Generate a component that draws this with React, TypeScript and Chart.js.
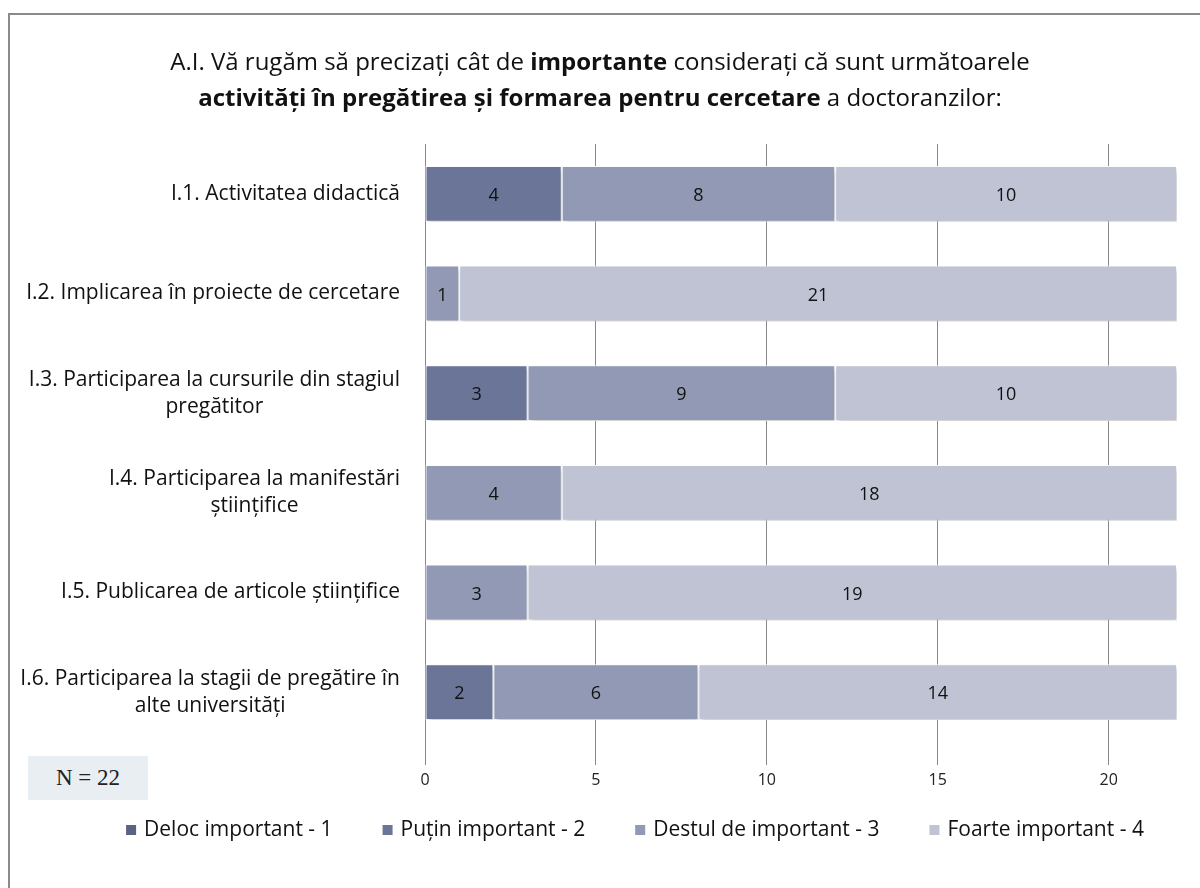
import React, { useEffect, useRef } from "react";
import { Chart, registerables } from "chart.js";

Chart.register(...registerables);

const categories: string[][] = [
  ["I.1. Activitatea didactică"],
  ["I.2. Implicarea în proiecte de cercetare"],
  ["I.3. Participarea la cursurile din stagiul", "pregătitor"],
  ["I.4. Participarea la manifestări", "științifice"],
  ["I.5. Publicarea de articole științifice"],
  ["I.6. Participarea la stagii de pregătire în", "alte universități"],
];

const seriesNames = [
  "Deloc important - 1",
  "Puțin important - 2",
  "Destul de important - 3",
  "Foarte important - 4",
];
const delocValues = [0, 0, 0, 0, 0, 0];
const putinValues = [4, 0, 3, 0, 0, 2];
const destulValues = [8, 1, 9, 4, 3, 6];
const foarteValues = [10, 21, 10, 18, 19, 14];
const seriesColors = ["#5b6385", "#6b7597", "#9199b5", "#bfc3d4"];

const xMin = 0;
const xMax = 22;
const xStep = 5;

const titleLine1 = [
  { text: "A.I. Vă rugăm să precizați cât de ", bold: false },
  { text: "importante", bold: true },
  { text: " considerați că sunt următoarele", bold: false },
];
const titleLine2 = [
  { text: "activități în pregătirea și formarea pentru cercetare", bold: true },
  { text: " a doctoranzilor:", bold: false },
];
const sampleNote = "N = 22";

const FONT = "'Open Sans', 'Noto Sans', sans-serif";
const CANVAS_W = 1250;
const CANVAS_H = 873;

const titlePlugin = {
  id: "mixedTitle",
  afterDraw(chart: any) {
    const ctx = chart.ctx;
    ctx.save();
    ctx.fillStyle = "#111";
    ctx.textBaseline = "middle";
    ctx.textAlign = "left";
    const size = 24;
    const cx = 590;
    const lines = [
      { segs: titleLine1, y: 48 },
      { segs: titleLine2, y: 84 },
    ];
    for (const line of lines) {
      let total = 0;
      const widths: number[] = [];
      for (const s of line.segs) {
        ctx.font = `${s.bold ? "bold " : ""}${size}px ${FONT}`;
        const w = ctx.measureText(s.text).width;
        widths.push(w);
        total += w;
      }
      let x = cx - total / 2;
      line.segs.forEach((s, i) => {
        ctx.font = `${s.bold ? "bold " : ""}${size}px ${FONT}`;
        ctx.fillText(s.text, x, line.y);
        x += widths[i];
      });
    }
    ctx.restore();
  },
};

const categoryLabelPlugin = {
  id: "categoryLabels",
  afterDraw(chart: any) {
    const ctx = chart.ctx;
    const yScale = chart.scales.y;
    ctx.save();
    ctx.fillStyle = "#111";
    ctx.font = `21px ${FONT}`;
    ctx.textAlign = "center";
    ctx.textBaseline = "middle";
    const rightEdge = chart.chartArea.left - 25;
    const lh = 27;
    categories.forEach((lines, i) => {
      const y = yScale.getPixelForValue(i);
      const maxW = Math.max(...lines.map((l) => ctx.measureText(l).width));
      const cx = rightEdge - maxW / 2;
      const y0 = y - ((lines.length - 1) * lh) / 2;
      lines.forEach((l, j) => ctx.fillText(l, cx, y0 + j * lh));
    });
    ctx.restore();
  },
};

const legendPlugin = {
  id: "bottomLegend",
  afterDraw(chart: any) {
    const ctx = chart.ctx;
    ctx.save();
    ctx.font = `21px ${FONT}`;
    ctx.textBaseline = "middle";
    ctx.textAlign = "left";
    const box = 10;
    const gapBoxText = 8;
    const gapItems = 50;
    const cy = 815;
    const centerX = 625;
    const items = chart.data.datasets.map((ds: any) => ({
      text: ds.label,
      color: ds.backgroundColor,
      w: box + gapBoxText + ctx.measureText(ds.label).width,
    }));
    const total = items.reduce((a: number, it: any) => a + it.w, 0) + gapItems * (items.length - 1);
    let x = centerX - total / 2;
    items.forEach((it: any) => {
      ctx.fillStyle = it.color;
      ctx.fillRect(x, cy - box / 2, box, box);
      ctx.fillStyle = "#111";
      ctx.fillText(it.text, x + box + gapBoxText, cy);
      x += it.w + gapItems;
    });
    ctx.restore();
  },
};

const shadowPlugin = {
  id: "barShadow",
  beforeDatasetsDraw(chart: any) {
    const ctx = chart.ctx;
    ctx.save();
    ctx.shadowColor = "rgba(0,0,0,0.22)";
    ctx.shadowBlur = 5;
    ctx.shadowOffsetX = 2;
    ctx.shadowOffsetY = 3;
  },
  afterDatasetsDraw(chart: any) {
    const ctx = chart.ctx;
    ctx.restore();
    ctx.save();
    ctx.fillStyle = "#111";
    ctx.font = `18px ${FONT}`;
    ctx.textAlign = "center";
    ctx.textBaseline = "middle";
    chart.data.datasets.forEach((ds: any, di: number) => {
      const meta = chart.getDatasetMeta(di);
      meta.data.forEach((bar: any, i: number) => {
        const v = ds.data[i];
        if (!v) return;
        const { x, base, y } = bar.getProps(["x", "base", "y"], true);
        ctx.fillText(String(v), (x + base) / 2, y + 2);
      });
    });
    ctx.restore();
  },
};

export default function App() {
  const ref = useRef<HTMLCanvasElement>(null);

  useEffect(() => {
    if (!ref.current) return;
    const allSeries = [delocValues, putinValues, destulValues, foarteValues];
    const chart = new Chart(ref.current, {
      type: "bar",
      data: {
        labels: categories.map((c) => c.join(" ")),
        datasets: allSeries.map((vals, i) => ({
          label: seriesNames[i],
          data: vals,
          backgroundColor: seriesColors[i],
          borderColor: "#ffffff",
          borderWidth: (c: any) => (c.raw ? 1 : 0),
          borderSkipped: false,
          categoryPercentage: 0.56,
          barPercentage: 1,
        })),
      },
      options: {
        indexAxis: "y",
        responsive: false,
        animation: false,
        layout: { padding: { top: 129, left: 83, right: CANVAS_W - 1167, bottom: CANVAS_H - 727 - 60 } },
        scales: {
          x: {
            stacked: true,
            min: xMin,
            max: xMax,
            afterFit: (s: any) => {
              s.height = 60;
            },
            ticks: {
              stepSize: xStep,
              includeBounds: false,
              color: "#222",
              font: { family: FONT, size: 16 },
              padding: 6,
            },
            grid: { color: "#888", lineWidth: 1, tickLength: 23, drawTicks: true },
            border: { display: false },
          },
          y: {
            stacked: true,
            afterFit: (s: any) => {
              s.width = 332;
            },
            ticks: { display: false },
            grid: { display: false },
            border: { display: false },
          },
        },
        plugins: {
          legend: { display: false },
          title: { display: false },
          tooltip: { enabled: false },
        },
      },
      plugins: [titlePlugin, categoryLabelPlugin, shadowPlugin, legendPlugin],
    } as any);
    return () => chart.destroy();
  }, []);

  return (
    <div style={{ position: "fixed", left: 0, top: 0, width: 1200, height: 888, overflow: "hidden", background: "#fff" }}>
      <div
        style={{
          position: "absolute",
          left: 8,
          top: 13,
          width: CANVAS_W,
          height: CANVAS_H + 10,
          border: "2px solid #8a8a8a",
          background: "#fff",
        }}
      >
        <canvas ref={ref} width={CANVAS_W} height={CANVAS_H} style={{ display: "block", width: CANVAS_W, height: CANVAS_H }} />
        <div
          style={{
            position: "absolute",
            left: 18,
            top: 741,
            width: 120,
            height: 44,
            background: "#e9eef3",
            display: "flex",
            alignItems: "center",
            justifyContent: "center",
            fontFamily: "'Liberation Serif', 'DejaVu Serif', serif",
            fontSize: 23,
            color: "#222",
          }}
        >
          {sampleNote}
        </div>
      </div>
    </div>
  );
}
